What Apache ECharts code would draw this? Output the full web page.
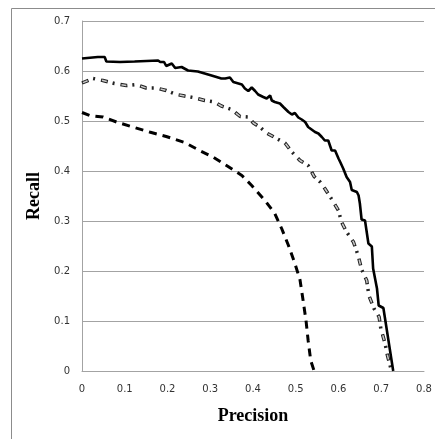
<!DOCTYPE html>
<html>
<head>
<meta charset="utf-8">
<script src="https://cdn.jsdelivr.net/npm/echarts@6/dist/echarts.min.js"></script>
<style>
  html, body { margin: 0; padding: 0; background: #fff; }
  #chart { width: 435px; height: 439px; }
</style>
</head>
<body>
<div id="chart"></div>
<script>
// Precision / recall curves for three methods: [precision, recall]
const solidCurve = [
  [0.000, 0.625], [0.037, 0.628], [0.053, 0.628], [0.057, 0.619], [0.089, 0.618],
  [0.123, 0.619], [0.127, 0.621], [0.178, 0.621], [0.183, 0.618], [0.192, 0.618],
  [0.197, 0.610], [0.210, 0.615], [0.218, 0.606], [0.233, 0.608], [0.248, 0.601],
  [0.271, 0.599], [0.287, 0.595], [0.303, 0.591], [0.326, 0.585], [0.335, 0.585],
  [0.346, 0.587], [0.354, 0.578], [0.362, 0.576], [0.374, 0.573], [0.381, 0.565],
  [0.389, 0.560], [0.397, 0.567], [0.405, 0.560], [0.412, 0.553], [0.424, 0.548],
  [0.432, 0.545], [0.440, 0.551], [0.444, 0.541], [0.451, 0.538], [0.463, 0.535],
  [0.471, 0.528], [0.483, 0.518], [0.491, 0.513], [0.498, 0.516], [0.506, 0.507],
  [0.514, 0.503], [0.522, 0.498], [0.529, 0.488], [0.537, 0.483], [0.545, 0.478],
  [0.553, 0.475], [0.561, 0.468], [0.568, 0.461], [0.576, 0.461], [0.584, 0.441],
  [0.592, 0.441], [0.600, 0.425], [0.604, 0.418], [0.611, 0.405], [0.619, 0.388],
  [0.627, 0.378], [0.631, 0.362], [0.643, 0.358], [0.647, 0.351], [0.650, 0.335],
  [0.654, 0.303], [0.662, 0.301], [0.670, 0.255], [0.678, 0.249], [0.681, 0.205],
  [0.690, 0.165], [0.694, 0.131], [0.705, 0.126], [0.728, 0.000]
];

const dashDotCurve = [
  [0.000, 0.576], [0.026, 0.585], [0.049, 0.581], [0.076, 0.575], [0.104, 0.571],
  [0.127, 0.573], [0.150, 0.566], [0.174, 0.566], [0.197, 0.561], [0.221, 0.553],
  [0.240, 0.550], [0.260, 0.547], [0.287, 0.541], [0.310, 0.538], [0.326, 0.530],
  [0.350, 0.523], [0.370, 0.509], [0.389, 0.508], [0.401, 0.496], [0.416, 0.488],
  [0.432, 0.476], [0.451, 0.467], [0.475, 0.456], [0.491, 0.438], [0.510, 0.421],
  [0.529, 0.411], [0.543, 0.389], [0.557, 0.378], [0.568, 0.365], [0.586, 0.341],
  [0.600, 0.321], [0.607, 0.298], [0.619, 0.278], [0.635, 0.258], [0.646, 0.231],
  [0.654, 0.203], [0.666, 0.181], [0.671, 0.151], [0.683, 0.125], [0.695, 0.108],
  [0.699, 0.085], [0.709, 0.055], [0.714, 0.033], [0.724, 0.000]
];

const dashedCurve = [
  [0.000, 0.517], [0.018, 0.511], [0.049, 0.508], [0.084, 0.497], [0.119, 0.488],
  [0.158, 0.478], [0.197, 0.469], [0.240, 0.457], [0.275, 0.441], [0.306, 0.428],
  [0.338, 0.411], [0.374, 0.391], [0.397, 0.371], [0.428, 0.341], [0.451, 0.315],
  [0.467, 0.285], [0.483, 0.251], [0.498, 0.215], [0.510, 0.182], [0.516, 0.148],
  [0.524, 0.101], [0.529, 0.061], [0.535, 0.021], [0.543, 0.000]
];

const xTickLabels = ['0', '0.1', '0.2', '0.3', '0.4', '0.5', '0.6', '0.7', '0.8'];
const yTickLabels = ['0', '0.1', '0.2', '0.3', '0.4', '0.5', '0.6', '0.7'];

const chart = echarts.init(document.getElementById('chart'), null, { renderer: 'canvas' });

const gridColor = '#a3a3a3';

function lineSeries(data, style, z) {
  return {
    type: 'line',
    data: data,
    showSymbol: false,
    symbol: 'none',
    smooth: false,
    z: z,
    silent: true,
    lineStyle: style
  };
}

chart.setOption({
  animation: false,
  backgroundColor: '#fff',
  graphic: [{
    type: 'rect',
    shape: { x: 11.5, y: 8.5, width: 600, height: 600 },
    style: { fill: 'none', stroke: '#8c8c8c', lineWidth: 1 },
    silent: true,
    z: -1
  }],
  grid: { left: 82, top: 21, right: 11, bottom: 68 },
  xAxis: {
    type: 'value',
    min: 0, max: 0.8, interval: 0.1,
    name: 'Precision',
    nameLocation: 'middle',
    nameGap: 36,
    nameTextStyle: {
      fontFamily: 'Liberation Serif', fontSize: 18, fontWeight: 'bold', color: '#000'
    },
    axisLine: { show: true, lineStyle: { color: gridColor, width: 1 } },
    axisTick: { show: false },
    splitLine: { show: false },
    axisLabel: {
      fontFamily: 'DejaVu Sans', fontSize: 10, color: '#333',
      margin: 13,
      formatter: v => xTickLabels[Math.round(v * 10)]
    }
  },
  yAxis: {
    type: 'value',
    min: 0, max: 0.7, interval: 0.1,
    name: 'Recall',
    nameLocation: 'middle',
    nameGap: 36,
    nameTextStyle: {
      fontFamily: 'Liberation Serif', fontSize: 18, fontWeight: 'bold', color: '#000'
    },
    axisLine: { show: true, lineStyle: { color: gridColor, width: 1 } },
    axisTick: { show: false },
    splitLine: { show: true, lineStyle: { color: gridColor, width: 1 } },
    axisLabel: {
      fontFamily: 'DejaVu Sans', fontSize: 10, color: '#333',
      margin: 12,
      formatter: v => yTickLabels[Math.round(v * 10)]
    }
  },
  series: [
    lineSeries(dashedCurve, { color: '#000', width: 3, type: [8, 6] }, 2),
    // dash-dot curve: dark outline with a light core on the dashes
    lineSeries(dashDotCurve, { color: '#222', width: 3.5, type: [7, 5, 2, 6] }, 3),
    lineSeries(dashDotCurve, { color: '#c8c8c8', width: 1.5, type: [0, 1, 5, 14] }, 4),
    lineSeries(solidCurve, { color: '#000', width: 2.6, type: 'solid' }, 5)
  ]
});
</script>
</body>
</html>
